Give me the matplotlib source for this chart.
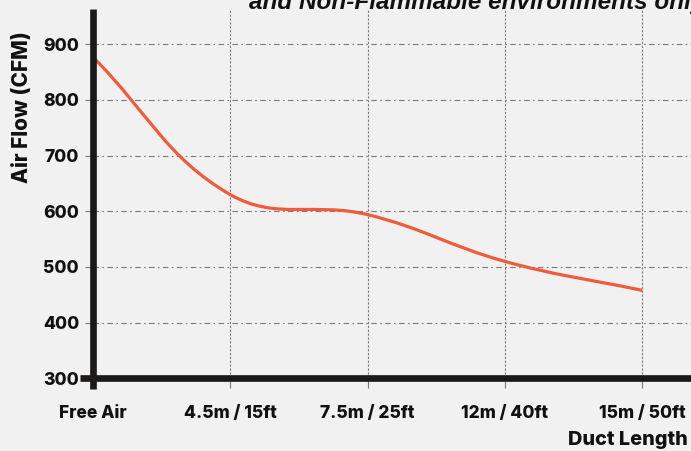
import matplotlib
matplotlib.use("Agg")
import matplotlib.pyplot as plt
import numpy as np
from matplotlib.path import Path
from matplotlib.patches import PathPatch

# ---- data ----
categories = ["Free Air", "4.5m / 15ft", "7.5m / 25ft", "12m / 40ft", "15m / 50ft"]
airflow_cfm = [877, 630, 594, 510, 458]
y_ticks = [300, 400, 500, 600, 700, 800, 900]

W, H, DPI = 691, 451, 100
fig = plt.figure(figsize=(W / DPI, H / DPI), dpi=DPI)
bg = "#f1f1f1"
fig.patch.set_facecolor(bg)

left_px, right_px, bottom_px, top_px = 93, 691, 378.3, 8.5
ax = fig.add_axes([left_px / W, (H - bottom_px) / H, (right_px - left_px) / W, (bottom_px - top_px) / H])
ax.set_facecolor("none")

px_per_x = 137.3
px_per_y = (378.3 - 44.3) / 600.0
ax.set_xlim(0, (right_px - left_px) / px_per_x)
ax.set_ylim(300, 300 + (bottom_px - top_px) / px_per_y)

x = np.arange(len(categories))
ax.set_xticks(x)
ax.set_xticklabels(categories)
ax.set_yticks(y_ticks)

font = "Inter"
wt = "extra bold"
for lab in ax.get_xticklabels() + ax.get_yticklabels():
    lab.set_fontfamily(font)
    lab.set_fontweight(wt)
    lab.set_fontsize(12.5)
    lab.set_color("#111111")

grid_col = "#7a7a7a"
ax.yaxis.grid(True, color=grid_col, linewidth=0.8, linestyle=(0, (5, 3, 1.5, 3)))
ax.xaxis.grid(True, color=grid_col, linewidth=0.8, linestyle=(0, (2, 1.5)))
ax.set_axisbelow(True)

ax.tick_params(axis="y", length=6, width=0.8, color=grid_col, pad=4)
ax.tick_params(axis="x", length=7, width=0.8, color=grid_col, pad=12)

for s in ["top", "right"]:
    ax.spines[s].set_visible(False)
spine_col = "#1b1a18"
for s in ["left", "bottom"]:
    ax.spines[s].set_color(spine_col)
    ax.spines[s].set_linewidth(4.8)
    ax.spines[s].set_capstyle("butt")

ax.plot([-13 / px_per_x, 0], [300, 300], color=spine_col, lw=4.8, clip_on=False,
        solid_capstyle="butt", zorder=3)
ax.plot([0, 0], [300 - 11 / px_per_y, 300], color=spine_col, lw=4.8, clip_on=False,
        solid_capstyle="butt", zorder=3)

# ---- smooth curve (Chart.js-like spline, tension 0.4, in display space) ----
fig.canvas.draw()
pts = ax.transData.transform(np.column_stack([x, airflow_cfm]))
t = 0.4
n = len(pts)
verts = [pts[0]]
codes = [Path.MOVETO]
ctrl_prev, ctrl_next = [], []
for i in range(n):
    p0 = pts[i - 1] if i > 0 else pts[i]
    p1 = pts[i]
    p2 = pts[i + 1] if i < n - 1 else pts[i]
    d01 = np.hypot(*(p1 - p0))
    d12 = np.hypot(*(p2 - p1))
    tot = d01 + d12
    fa = t * d01 / tot if tot else 0
    fb = t * d12 / tot if tot else 0
    ctrl_prev.append(p1 - fa * (p2 - p0))
    ctrl_next.append(p1 + fb * (p2 - p0))
for i in range(n - 1):
    verts += [ctrl_next[i], ctrl_prev[i + 1], pts[i + 1]]
    codes += [Path.CURVE4] * 3
verts_data = ax.transData.inverted().transform(np.array(verts))
ax.add_patch(PathPatch(Path(verts_data, codes), facecolor="none", edgecolor="#ef5b3b",
                       linewidth=2.3, zorder=2, capstyle="butt"))

fig.text(22 / W, 1 - 107 / H, "Air Flow (CFM)", rotation=90, ha="center", va="center",
         fontfamily=font, fontweight=wt, fontsize=15, color="#111111")
fig.text(688 / W, 1 - 445 / H, "Duct Length", ha="right", va="baseline",
         fontfamily=font, fontweight=wt, fontsize=14.3, color="#111111")
fig.text(249 / W, 1 - 9 / H, "and Non-Flammable environments only", ha="left", va="baseline",
         fontfamily="Liberation Sans", fontweight="bold", fontstyle="italic", fontsize=17.5,
         color="#111111")

fig.savefig("out.png", dpi=DPI, facecolor=bg)
